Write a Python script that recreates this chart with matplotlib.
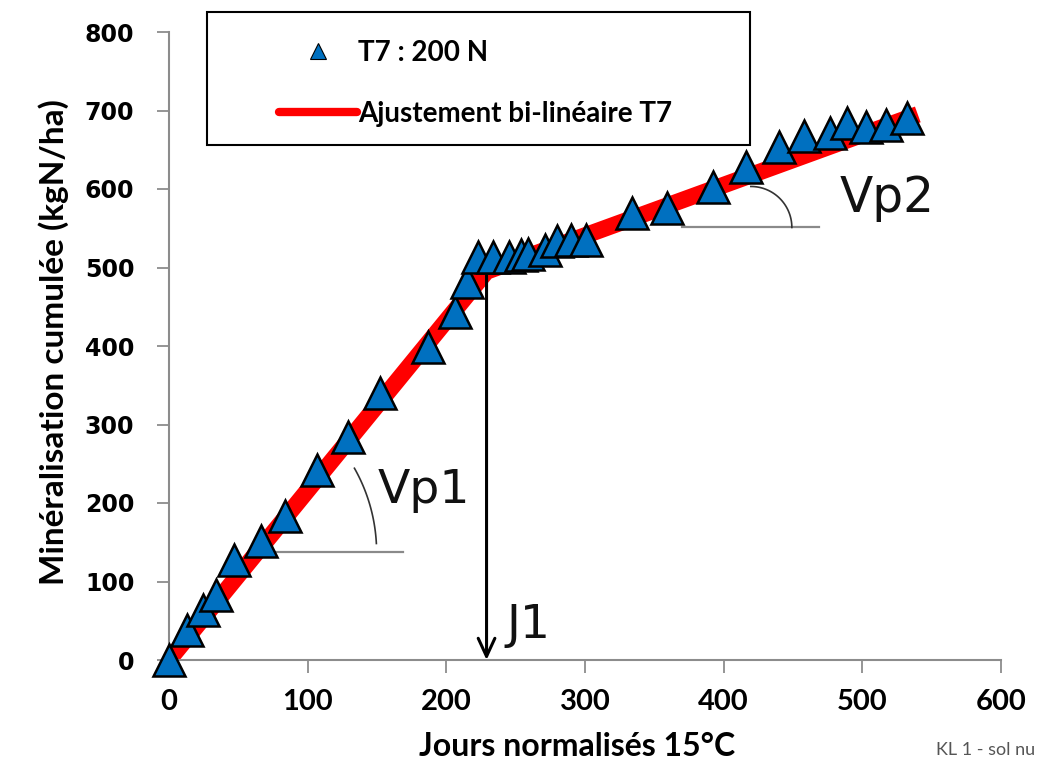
import numpy as np
import matplotlib
matplotlib.use("Agg")
import matplotlib.pyplot as plt
from matplotlib.patches import Rectangle
from matplotlib.lines import Line2D

# donnees
jours = [0, 13, 24.5, 34, 47, 66, 84, 106.5, 129, 152, 187, 206, 215,
         223, 234, 245, 254, 259, 271, 280, 290, 301,
         334, 359, 392, 416, 440, 458, 477, 489, 503, 517, 532]
mineralisation = [0, 38, 64, 83, 127, 151, 184, 242, 284, 340, 399, 443, 481,
                  513, 513, 513, 516, 517, 522, 534, 535, 535,
                  569, 576, 603, 628, 654, 667, 671, 684, 679, 682, 690]

# ajustement bi-lineaire
fit_x = [0, 229, 540]
fit_y = [0, 495, 695]
j1 = 229

x_ticks = [0, 100, 200, 300, 400, 500, 600]
y_ticks = [0, 100, 200, 300, 400, 500, 600, 700, 800]

W, H = 1041, 762
fig = plt.figure(figsize=(W / 100, H / 100), dpi=100)
ax = fig.add_axes([169 / W, (H - 660) / H, 832 / W, 628 / H])
ax.set_xlim(0, 600)
ax.set_ylim(0, 800)
px_x = 832 / 600
px_y = 628 / 800

# ligne d'ajustement
ax.plot(fit_x, fit_y, color='#ff0000', lw=12, solid_capstyle='butt',
        solid_joinstyle='round', zorder=2)
# points
ax.plot(jours, mineralisation, ls='none', marker='^', ms=23,
        mfc='#0070c0', mec='black', mew=1.8, zorder=3, clip_on=False)

# fleche J1
ax.annotate('', xy=(j1, 0), xytext=(j1, 490),
            arrowprops=dict(arrowstyle='->,head_length=1.3,head_width=0.6',
                            color='black', lw=2.2, shrinkA=0, shrinkB=0),
            zorder=4)
ax.text(259, 44, 'J1', fontsize=34, family='DejaVu Sans', color='#111111',
        ha='center', va='center')


def arc(cx, cy, r, t1, t2):
    t = np.radians(np.linspace(t1, t2, 60))
    ax.plot(cx + r * np.cos(t) / px_x, cy + r * np.sin(t) / px_y,
            color='#333333', lw=1.2, zorder=1)


# Vp1
ax.plot([69, 169], [137, 137], color='#8a8a8a', lw=1.6, zorder=1)
arc(26.4, 137, 171, 3, 29.5)
ax.text(184, 216, 'Vp1', fontsize=34, family='DejaVu Sans', color='#111111',
        ha='center', va='center')
# Vp2
ax.plot([370, 469], [551, 551], color='#8a8a8a', lw=1.6, zorder=1)
arc(419.6, 551, 41, 0, 90)
ax.text(518, 588, 'Vp2', fontsize=35, family='DejaVu Sans', color='#111111',
        ha='center', va='center')

# axes
for s in ['top', 'right']:
    ax.spines[s].set_visible(False)
for s in ['left', 'bottom']:
    ax.spines[s].set_color('#8c8c8c')
    ax.spines[s].set_linewidth(1.5)
ax.set_xticks(x_ticks)
ax.set_yticks(y_ticks)
ax.tick_params(axis='both', color='#8c8c8c', length=9, width=1.3)
ax.tick_params(axis='y', pad=16)
ax.tick_params(axis='x', pad=12)
for lab in ax.get_yticklabels():
    lab.set_fontfamily('DejaVu Sans')
    lab.set_fontweight('bold')
    lab.set_fontsize(17)
for lab in ax.get_xticklabels():
    lab.set_fontfamily('Lato')
    lab.set_fontweight('bold')
    lab.set_fontsize(21)

fig.text(54 / W, 1 - 342 / H, 'Minéralisation cumulée (kgN/ha)', rotation=90,
         ha='center', va='center', fontsize=24, fontweight='bold', family='Lato')
fig.text(577 / W, 1 - 746 / H, 'Jours normalisés 15°C', ha='center',
         va='center', fontsize=23, fontweight='bold', family='Lato')
fig.text(1035 / W, 1 - 750 / H, 'KL 1 - sol nu', ha='right', va='center',
         fontsize=13, color='#555555', family='Lato')

# legende
fig.patches.append(Rectangle((207 / W, 1 - 145 / H), 543 / W, 133 / H,
                             transform=fig.transFigure, fill=False,
                             edgecolor='black', lw=1.5))
h_pts = Line2D([], [], ls='none', marker='^', ms=11, mfc='#0070c0',
               mec='black', mew=0.8)
h_fit = Line2D([], [], color='#ff0000', lw=6, solid_capstyle='round')
leg = ax.legend([h_pts, h_fit], ['T7 : 200 N', 'Ajustement bi-linéaire T7'],
                loc='upper left', bbox_to_anchor=(254 / W, 1 - 15 / H),
                bbox_transform=fig.transFigure, frameon=False,
                handlelength=2.8, handletextpad=0.05, labelspacing=1.25,
                prop={'family': 'Lato', 'weight': 'bold', 'size': 20})

fig.savefig('out.png', dpi=100)
